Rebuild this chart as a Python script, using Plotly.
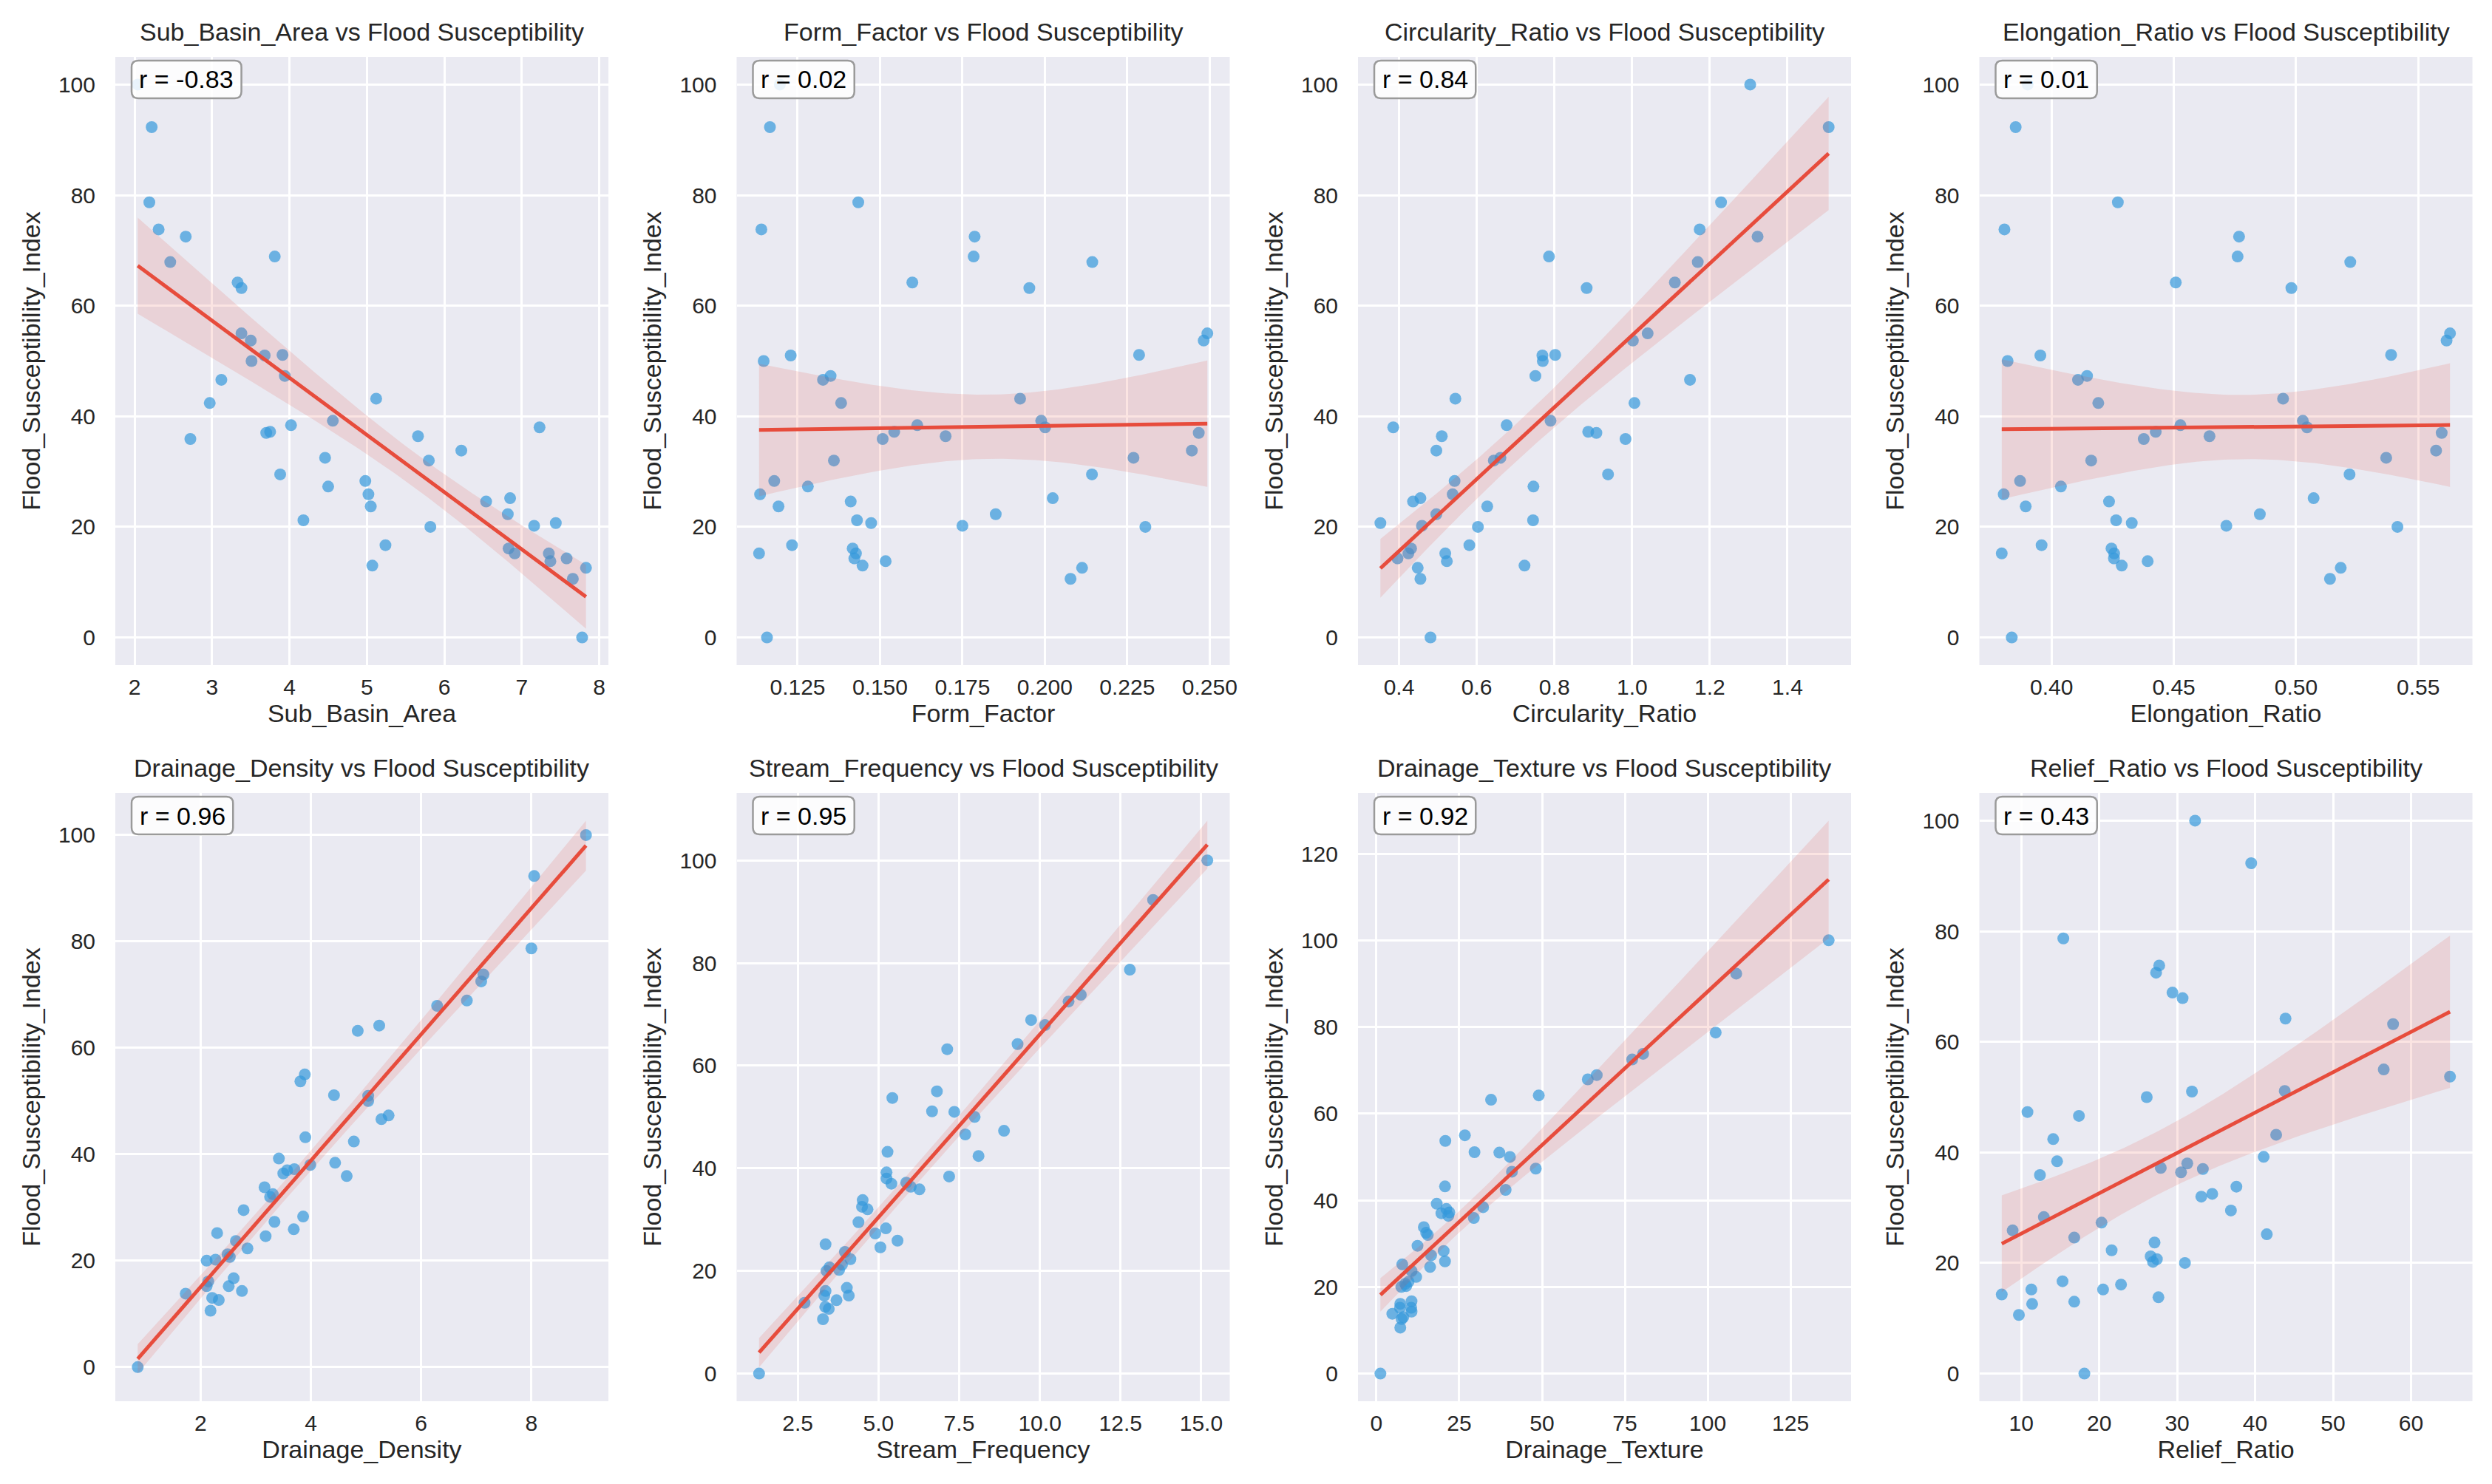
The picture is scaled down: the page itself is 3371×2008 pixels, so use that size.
import numpy as np
import plotly.graph_objects as go

# ---------------- data ----------------
flood_index = [100.0, 92.3, 78.7, 73.8, 72.5, 68.9, 67.9, 64.2, 63.2, 55.0,
               53.7, 51.1, 51.0, 50.0, 47.3, 46.6, 43.2, 42.4, 39.2, 38.4,
               38.0, 37.2, 37.0, 36.4, 35.9, 33.8, 32.5, 32.0, 29.5, 28.3,
               27.3, 25.9, 25.2, 24.6, 23.7, 22.3, 21.2, 20.7, 20.2, 20.0,
               16.7, 16.1, 15.2, 15.2, 14.3, 13.8, 13.0, 12.6, 10.6, 0.0]

sub_basin_area = [2.04, 2.22, 2.19, 2.31, 2.66, 3.81, 2.46, 3.33, 3.38, 3.38,
                  3.50, 3.91, 3.68, 3.51, 3.94, 3.12, 5.12, 2.97, 4.56, 4.02,
                  7.23, 3.75, 3.70, 5.66, 2.72, 6.22, 4.46, 5.80, 3.88, 4.98,
                  4.50, 5.02, 6.85, 6.54, 5.05, 6.82, 4.18, 7.44, 7.16, 5.82,
                  5.24, 6.83, 6.91, 7.35, 7.58, 7.37, 5.07, 7.83, 7.66, 7.78]

form_factor = [0.1196, 0.1166, 0.1434, 0.1140, 0.1787, 0.1784, 0.2144, 0.1598, 0.1953, 0.2493,
               0.2482, 0.2286, 0.1229, 0.1147, 0.1350, 0.1327, 0.1925, 0.1382, 0.1989, 0.1613,
               0.2001, 0.1543, 0.2467, 0.1699, 0.1508, 0.2446, 0.2269, 0.1360, 0.2143, 0.1179,
               0.1281, 0.1136, 0.2024, 0.1411, 0.1192, 0.1851, 0.1430, 0.1473, 0.1750, 0.2305,
               0.1233, 0.1417, 0.1133, 0.1427, 0.1422, 0.1517, 0.1447, 0.2113, 0.2078, 0.1157]

circularity_ratio = [1.304, 1.506, 1.229, 1.174, 1.323, 0.786, 1.169, 1.110, 0.883, 1.040,
                     1.002, 0.802, 0.769, 0.770, 0.751, 1.149, 0.545, 1.006, 0.790, 0.677,
                     0.385, 0.887, 0.908, 0.510, 0.983, 0.496, 0.661, 0.644, 0.938, 0.543,
                     0.746, 0.538, 0.455, 0.436, 0.627, 0.496, 0.745, 0.352, 0.459, 0.603,
                     0.581, 0.431, 0.424, 0.519, 0.396, 0.523, 0.723, 0.448, 0.455, 0.481]

elongation_ratio = [0.3902, 0.3853, 0.4271, 0.3807, 0.4767, 0.4761, 0.5222, 0.4508, 0.4981, 0.5630,
                    0.5616, 0.5389, 0.3954, 0.3820, 0.4145, 0.4108, 0.4947, 0.4191, 0.5028, 0.4527,
                    0.5045, 0.4426, 0.5596, 0.4646, 0.4377, 0.5573, 0.5369, 0.4162, 0.5219, 0.3871,
                    0.4038, 0.3804, 0.5072, 0.4235, 0.3894, 0.4852, 0.4264, 0.4328, 0.4715, 0.5415,
                    0.3959, 0.4245, 0.3796, 0.4256, 0.4255, 0.4393, 0.4287, 0.5183, 0.5139, 0.3837]

drainage_density = [8.99, 8.05, 8.00, 7.13, 7.09, 6.83, 6.29, 5.24, 4.85, 3.89,
                    3.81, 4.42, 5.04, 5.04, 5.41, 5.28, 3.90, 4.78, 3.42, 4.44,
                    3.99, 3.70, 3.57, 3.50, 4.65, 3.16, 3.31, 3.26, 2.78, 3.86,
                    3.34, 3.69, 2.30, 3.18, 2.64, 2.85, 2.49, 2.53, 2.27, 2.11,
                    2.60, 2.14, 2.11, 2.51, 2.75, 1.73, 2.21, 2.33, 2.18, 0.86]

stream_frequency = [15.19, 13.51, 12.79, 11.27, 10.89, 9.73, 10.16, 9.31, 7.13, 6.81,
                    5.43, 6.66, 7.35, 7.98, 8.89, 7.69, 5.28, 8.10, 5.25, 7.19,
                    5.25, 5.86, 5.40, 6.00, 6.27, 4.51, 4.49, 4.66, 4.38, 5.23,
                    4.90, 5.59, 3.36, 5.06, 3.96, 4.13, 3.87, 3.48, 3.78, 3.39,
                    4.02, 3.36, 3.32, 4.08, 3.70, 2.71, 3.35, 3.46, 3.28, 1.30]

drainage_texture = [136.5, 108.6, 102.4, 80.5, 77.2, 66.5, 63.8, 49.0, 34.6, 26.7,
                    20.8, 29.6, 37.1, 40.3, 48.1, 40.9, 20.7, 39.0, 18.2, 32.2,
                    21.1, 22.0, 19.6, 21.7, 29.4, 14.3, 15.0, 15.5, 12.4, 20.3,
                    16.5, 20.7, 7.8, 16.2, 10.6, 12.0, 9.7, 8.7, 9.0, 7.5,
                    10.6, 7.2, 7.1, 10.5, 10.6, 4.8, 8.1, 7.6, 7.2, 1.2]

relief_ratio = [32.3, 39.5, 15.4, 27.7, 27.3, 29.4, 30.7, 43.9, 57.7, 56.5,
                65.0, 43.8, 31.9, 26.1, 10.8, 17.4, 42.7, 14.1, 41.1, 14.6,
                31.3, 27.9, 33.3, 30.5, 12.4, 37.6, 34.5, 33.1, 36.9, 12.9,
                20.3, 8.9, 41.5, 16.8, 27.1, 21.6, 26.6, 27.4, 26.9, 31.0,
                15.3, 22.8, 11.3, 20.5, 7.5, 27.6, 16.8, 11.4, 9.7, 18.1]

variable_names = ["Sub_Basin_Area", "Form_Factor", "Circularity_Ratio", "Elongation_Ratio",
                  "Drainage_Density", "Stream_Frequency", "Drainage_Texture", "Relief_Ratio"]
variable_values = [sub_basin_area, form_factor, circularity_ratio, elongation_ratio,
                   drainage_density, stream_frequency, drainage_texture, relief_ratio]
r_labels = ["r = -0.83", "r = 0.02", "r = 0.84", "r = 0.01",
            "r = 0.96", "r = 0.95", "r = 0.92", "r = 0.43"]

x_tick_values = [[2, 3, 4, 5, 6, 7, 8],
                 [0.125, 0.150, 0.175, 0.200, 0.225, 0.250],
                 [0.4, 0.6, 0.8, 1.0, 1.2, 1.4],
                 [0.40, 0.45, 0.50, 0.55],
                 [2, 4, 6, 8],
                 [2.5, 5.0, 7.5, 10.0, 12.5, 15.0],
                 [0, 25, 50, 75, 100, 125],
                 [10, 20, 30, 40, 50, 60]]
x_tick_formats = ["d", ".3f", ".1f", ".2f", "d", ".1f", "d", "d"]
y_axis_title = "Flood_Susceptibility_Index"

# ---------------- styling / layout ----------------
W, H = 3371, 2008
col_left = [148, 988.5, 1829, 2669.5]
row_top = [69, 1065]
PW, PH = 667, 823
FONT = "Liberation Sans, Arial, Helvetica, sans-serif"
TXT = "#262626"
BG = "#EAEAF2"
PT_COLOR = "rgba(52,152,219,0.7)"
LINE_COLOR = "#e74c3c"
BAND_COLOR = "rgba(231,76,60,0.15)"
LABEL_SIZE = 34

# Arial advance widths (em) for the characters used in the r-labels
CHAR_W = {"r": 0.333, " ": 0.278, "=": 0.584, "-": 0.333, ".": 0.278}


def text_width(s, size):
    return sum(CHAR_W.get(ch, 0.556) for ch in s) * size


def rounded_box(x0, y0, x1, y1, rad):
    # pixel-space path, y grows upward
    return (f"M{x0 + rad},{y1} L{x1 - rad},{y1} Q{x1},{y1} {x1},{y1 - rad} "
            f"L{x1},{y0 + rad} Q{x1},{y0} {x1 - rad},{y0} L{x0 + rad},{y0} "
            f"Q{x0},{y0} {x0},{y0 + rad} L{x0},{y1 - rad} Q{x0},{y1} {x0 + rad},{y1} Z")


fig = go.Figure()
layout = {}
annotations = []
shapes = []

y_arr = np.array(flood_index, dtype=float)

for i, (name, xs_list) in enumerate(zip(variable_names, variable_values)):
    r, c = divmod(i, 4)
    ax = i + 1
    xa = "x" if ax == 1 else f"x{ax}"
    ya = "y" if ax == 1 else f"y{ax}"
    x = np.array(xs_list, dtype=float)
    y = y_arr

    # OLS fit + robust (HC3 sandwich) 95% band, approximating a bootstrap CI
    X = np.column_stack([np.ones_like(x), x])
    beta, *_ = np.linalg.lstsq(X, y, rcond=None)
    resid = y - X @ beta
    XtX_inv = np.linalg.inv(X.T @ X)
    h = np.sum((X @ XtX_inv) * X, axis=1)
    meat = X.T @ (X * (resid ** 2 / (1 - h) ** 2)[:, None])
    V = XtX_inv @ meat @ XtX_inv
    xg = np.linspace(x.min(), x.max(), 100)
    Xg = np.column_stack([np.ones_like(xg), xg])
    yg = Xg @ beta
    se = np.sqrt(np.sum((Xg @ V) * Xg, axis=1))
    lo, hi = yg - 1.96 * se, yg + 1.96 * se

    fig.add_trace(go.Scatter(x=x, y=y, mode="markers", xaxis=xa, yaxis=ya,
                             marker=dict(color=PT_COLOR, size=16, line=dict(width=0)),
                             showlegend=False, hoverinfo="skip"))
    fig.add_trace(go.Scatter(x=np.concatenate([xg, xg[::-1]]),
                             y=np.concatenate([hi, lo[::-1]]),
                             fill="toself", fillcolor=BAND_COLOR, mode="lines",
                             line=dict(width=0), xaxis=xa, yaxis=ya,
                             showlegend=False, hoverinfo="skip"))
    fig.add_trace(go.Scatter(x=xg, y=yg, mode="lines", xaxis=xa, yaxis=ya,
                             line=dict(color=LINE_COLOR, width=5),
                             showlegend=False, hoverinfo="skip"))

    # matplotlib-like autoscale with 5% margins
    xspan = x.max() - x.min()
    xr = [x.min() - 0.05 * xspan, x.max() + 0.05 * xspan]
    ymin = min(y.min(), lo.min(), yg.min())
    ymax = max(y.max(), hi.max(), yg.max())
    yspan = ymax - ymin
    yr = [ymin - 0.05 * yspan, ymax + 0.05 * yspan]

    x0 = col_left[c] / W
    x1 = (col_left[c] + PW) / W
    y1 = 1 - row_top[r] / H
    y0 = 1 - (row_top[r] + PH) / H

    common = dict(showgrid=True, gridcolor="white", gridwidth=2.5, zeroline=False,
                  showline=False, ticks="outside", tickcolor="rgba(0,0,0,0)",
                  tickfont=dict(family=FONT, size=30, color=TXT), automargin=False)
    layout["xaxis" if ax == 1 else f"xaxis{ax}"] = dict(
        domain=[x0, x1], anchor=ya, range=xr, ticklen=3,
        tickmode="array", tickvals=x_tick_values[i], tickformat=x_tick_formats[i],
        title=dict(text=name, font=dict(family=FONT, size=LABEL_SIZE, color=TXT), standoff=4),
        **common)
    layout["yaxis" if ax == 1 else f"yaxis{ax}"] = dict(
        domain=[y0, y1], anchor=xa, range=yr, dtick=20, tick0=0, ticklen=20,
        title=dict(text=y_axis_title, font=dict(family=FONT, size=LABEL_SIZE, color=TXT),
                   standoff=14),
        **common)

    annotations.append(dict(
        text=f"{name} vs Flood Susceptibility", xref="paper", yref="paper",
        x=(x0 + x1) / 2, y=y1, xanchor="center", yanchor="bottom", yshift=13,
        showarrow=False, font=dict(family=FONT, size=LABEL_SIZE, color=TXT)))

    # r label in a rounded box near the top-left corner
    bw = text_width(r_labels[i], LABEL_SIZE) + 21
    bx0, bx1 = 22, 22 + bw
    by1, by0 = -5, -56
    shapes.append(dict(
        type="path", xref=f"{xa} domain", yref=f"{ya} domain",
        xsizemode="pixel", ysizemode="pixel", xanchor=0, yanchor=1,
        path=rounded_box(bx0, by0, bx1, by1, 9),
        fillcolor="rgba(255,255,255,0.85)", line=dict(color="#9a9a9a", width=2.5),
        layer="above"))
    annotations.append(dict(
        text=r_labels[i], xref=f"{xa} domain", yref=f"{ya} domain",
        x=0, y=1, xanchor="center", yanchor="middle",
        xshift=(bx0 + bx1) / 2, yshift=(by0 + by1) / 2,
        showarrow=False, font=dict(family=FONT, size=LABEL_SIZE, color="black")))

fig.update_layout(
    width=W, height=H, paper_bgcolor="white", plot_bgcolor=BG,
    margin=dict(l=0, r=0, t=0, b=0), showlegend=False,
    font=dict(family=FONT, color=TXT),
    annotations=annotations, shapes=shapes, **layout)

fig.write_html("out.html")
